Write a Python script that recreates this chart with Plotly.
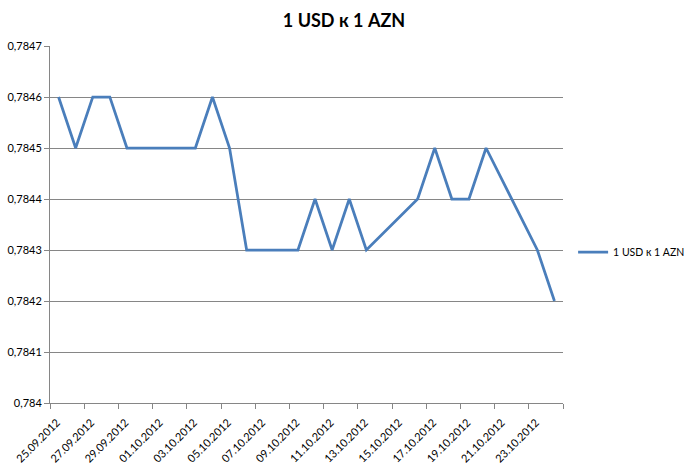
import pandas as pd
import plotly.graph_objects as go

# Data
dates = ["25.09.2012", "26.09.2012", "27.09.2012", "28.09.2012", "29.09.2012",
         "30.09.2012", "01.10.2012", "02.10.2012", "03.10.2012", "04.10.2012",
         "05.10.2012", "06.10.2012", "07.10.2012", "08.10.2012", "09.10.2012",
         "10.10.2012", "11.10.2012", "12.10.2012", "13.10.2012", "16.10.2012",
         "17.10.2012", "18.10.2012", "19.10.2012", "20.10.2012", "23.10.2012",
         "24.10.2012"]
rates = [0.7846, 0.7845, 0.7846, 0.7846, 0.7845,
         0.7845, 0.7845, 0.7845, 0.7845, 0.7846,
         0.7845, 0.7843, 0.7843, 0.7843, 0.7843,
         0.7844, 0.7843, 0.7844, 0.7843, 0.7844,
         0.7845, 0.7844, 0.7844, 0.7845, 0.7843,
         0.7842]
series_name = "1 USD к 1 AZN"
title_text = "1 USD к 1 AZN"

x_tick_labels = ["25.09.2012", "27.09.2012", "29.09.2012", "01.10.2012", "03.10.2012",
                 "05.10.2012", "07.10.2012", "09.10.2012", "11.10.2012", "13.10.2012",
                 "15.10.2012", "17.10.2012", "19.10.2012", "21.10.2012", "23.10.2012", ""]
y_tick_values = [0.784, 0.7841, 0.7842, 0.7843, 0.7844, 0.7845, 0.7846, 0.7847]
y_tick_labels = ["0,784", "0,7841", "0,7842", "0,7843", "0,7844", "0,7845", "0,7846", "0,7847"]

# Excel date axis: points sit in the middle of each day slot
x_pts = pd.to_datetime(dates, format="%d.%m.%Y") + pd.Timedelta(hours=12)
tick_dates = pd.date_range("2012-09-25", "2012-10-25", freq="2D")

fig = go.Figure()
fig.add_trace(go.Scatter(
    x=x_pts, y=rates, mode="lines", name=series_name,
    line=dict(color="#4A7EBB", width=2.75), hoverinfo="skip",
))

font_family = "Lato, 'Open Sans', sans-serif"
axis_col = "#868686"

fig.update_layout(
    width=688, height=467, autosize=False,
    margin=dict(l=50, r=125, t=46, b=64),
    paper_bgcolor="white", plot_bgcolor="white",
    font=dict(family=font_family, size=11, color="#000000"),
    title=dict(text="<b>" + title_text + "</b>", x=0.5, xanchor="center",
               y=0.955, yanchor="middle", font=dict(size=18, family=font_family)),
    showlegend=True,
    legend=dict(xref="container", yref="container", x=0.833, xanchor="left",
                y=0.46, yanchor="middle",
                font=dict(size=10.5), bgcolor="rgba(0,0,0,0)", borderwidth=0),
    xaxis=dict(
        type="date", automargin=False,
        range=[tick_dates[0], tick_dates[-1]],
        tickmode="array", tickvals=tick_dates, ticktext=x_tick_labels,
        tickangle=-45, ticks="outside", ticklen=5, tickcolor=axis_col,
        ticklabelshift=7, ticklabelstandoff=3,
        showline=True, linecolor=axis_col, linewidth=1,
        showgrid=False, zeroline=False,
        tickfont=dict(size=11),
    ),
    yaxis=dict(
        automargin=False,
        range=[0.784, 0.7847],
        tickmode="array", tickvals=y_tick_values, ticktext=y_tick_labels,
        ticks="outside", ticklen=5, tickcolor=axis_col,
        showline=True, linecolor=axis_col, linewidth=1,
        showgrid=True, gridcolor=axis_col, gridwidth=1,
        zeroline=False, tickfont=dict(size=11),
    ),
)

post = ("document.body.style.margin='0';document.body.style.padding='0';"
        "document.body.style.overflow='hidden';"
        "var gd=document.getElementById('{plot_id}');"
        "Plotly.relayout(gd,{width:688,height:467});")

fig.write_html("out.html", config={"responsive": False, "displayModeBar": False},
               default_width="688px", default_height="467px", post_script=post)
